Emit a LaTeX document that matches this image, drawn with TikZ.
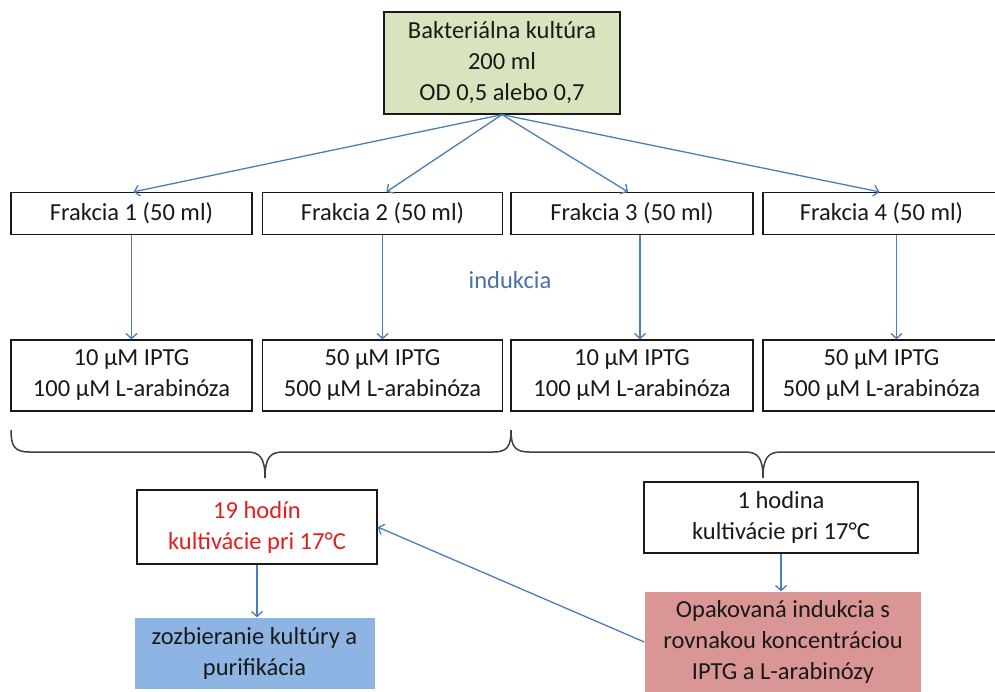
\documentclass[tikz,border=0pt]{standalone}
\usepackage{fontspec}
\setmainfont{Carlito}
\usetikzlibrary{arrows.meta}
\definecolor{boxgreen}{HTML}{D7E4BD}
\definecolor{boxblue}{HTML}{8EB4E3}
\definecolor{boxred}{HTML}{D99694}
\definecolor{arrblue}{HTML}{4A7EBB}
\definecolor{txtblue}{HTML}{4A6FAA}
\definecolor{txtred}{HTML}{E41E1E}
\definecolor{bracegray}{HTML}{404040}
\tikzset{
  box/.style={draw=black!90, line width=1.3pt, align=center, inner sep=0pt,
    font=\fontsize{24.5}{31}\selectfont, text=black!90},
  arr/.style={draw=arrblue, line width=1.3pt, -{Straight Barb[length=5pt,width=11pt]}},
  bracestyle/.style={draw=bracegray, line width=1.5pt},
}
\begin{document}
\begin{tikzpicture}[x=1pt,y=-1pt]
\clip (0,0) rectangle (995,691);
\fill[white] (0,0) rectangle (995,691);

\node[box, fill=boxgreen, minimum width=236, minimum height=102] (top) at (502,63)
  {Bakteriálna kultúra\\200 ml\\OD 0,5 alebo 0,7};

\node[box, minimum width=241, minimum height=42] (f1) at (131.5,213.5) {Frakcia 1 (50 ml)};
\node[box, minimum width=240, minimum height=42] (f2) at (382.5,213.5) {Frakcia 2 (50 ml)};
\node[box, minimum width=242, minimum height=42] (f3) at (632,213.5) {Frakcia 3 (50 ml)};
\node[box, minimum width=237, minimum height=42] (f4) at (881.5,213.5) {Frakcia 4 (50 ml)};

\node[box, minimum width=241, minimum height=71] (i1) at (131.5,375.5) {10 µM IPTG\\100 µM L-arabinóza};
\node[box, minimum width=240, minimum height=71] (i2) at (382.5,375.5) {50 µM IPTG\\500 µM L-arabinóza};
\node[box, minimum width=242, minimum height=71] (i3) at (632,375.5) {10 µM IPTG\\100 µM L-arabinóza};
\node[box, minimum width=237, minimum height=71] (i4) at (881.5,375.5) {50 µM IPTG\\500 µM L-arabinóza};

\node[font=\fontsize{24.5}{31}\selectfont, text=txtblue, inner sep=0pt] (ind) at (510,280) {indukcia};

\node[box, text=txtred, minimum width=240, minimum height=74] (h19) at (257,527)
  {19 hodín\\kultivácie pri 17°C};
\node[box, minimum width=274, minimum height=71] (h1) at (781,517.5)
  {1 hodina\\kultivácie pri 17°C};
\node[box, draw=none, fill=boxblue, minimum width=240, minimum height=71] (blue) at (254.5,653.5)
  {zozbieranie kultúry a\\purifikácia};
\node[box, draw=none, fill=boxred, minimum width=276, minimum height=100] (red) at (783,642)
  {Opakovaná indukcia s\\rovnakou koncentráciou\\IPTG a L-arabinózy};

% arrows from top
\draw[arr] (top.south) -- ([xshift=2pt]f1.north);
\draw[arr] (top.south) -- ([xshift=4pt]f2.north);
\draw[arr] (top.south) -- ([xshift=-4pt]f3.north);
\draw[arr] (top.south) -- ([xshift=-2pt]f4.north);

% vertical arrows
\draw[arr] (f1.south) -- (i1.north);
\draw[arr] (f2.south) -- (i2.north);
\draw[arr] ([xshift=8pt]f3.south) -- ([xshift=8pt]i3.north);
\draw[arr] ([xshift=15pt]f4.south) -- ([xshift=15pt]i4.north);

% braces
\coordinate (lb) at (265,478);
\coordinate (rb) at (763,478);
\draw[bracestyle] (11,430) .. controls (11,447) and (15,452) .. (30,452) -- (247,452)
  .. controls (260,452) and (265,458) .. (lb)
  .. controls (265,458) and (270,452) .. (283,452) -- (493,452)
  .. controls (507,452) and (511,447) .. (511,430);
\draw[bracestyle] (511,430) .. controls (511,447) and (515,452) .. (530,452) -- (745,452)
  .. controls (758,452) and (763,458) .. (rb)
  .. controls (763,458) and (768,452) .. (781,452) -- (1000,452);

% lower arrows
\draw[arr] (h19.south) -- (h19.south |- blue.north);
\draw[arr] (h1.south) -- (h1.south |- red.north);
\draw[arr] (red.west) -- (h19.east);
\end{tikzpicture}
\end{document}
